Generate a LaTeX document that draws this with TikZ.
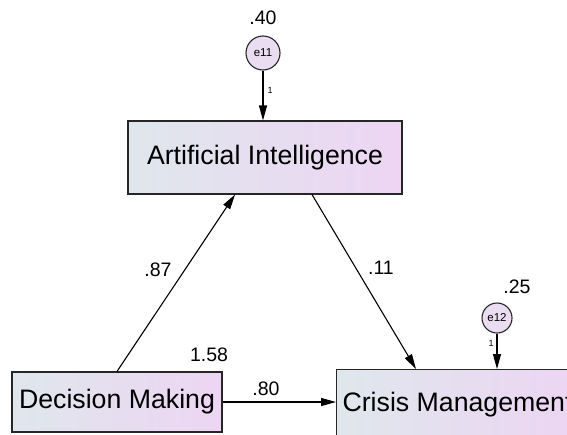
\documentclass[tikz,border=0pt]{standalone}
\usepackage{fontspec}
\setmainfont{Liberation Sans}
\usetikzlibrary{arrows.meta}
\definecolor{boxleft}{HTML}{DFE7EC}
\definecolor{boxright}{HTML}{EDD5F3}
\definecolor{errfill}{HTML}{EADDF1}

\begin{document}
\begin{tikzpicture}[x=1pt,y=-1pt,
  obs/.style={draw=black!85, line width=1.1pt, left color=boxleft, right color=boxright,
              inner sep=0pt, font=\fontsize{26.7}{30}\selectfont},
  err/.style={circle, draw=black!85, line width=1.1pt, fill=errfill, inner sep=0pt,
              font=\fontsize{11.5}{13}\selectfont},
  regpath/.style={line width=1.1pt, -{Triangle[length=15pt,width=8pt]}},
  est/.style={inner sep=0pt, font=\fontsize{19.5}{22}\selectfont},
  one/.style={inner sep=0pt, font=\fontsize{9}{10}\selectfont}]

\useasboundingbox[fill=white] (0,0) rectangle (567,434);

% observed variables
\node[obs, minimum width=274pt, minimum height=73pt] (ai) at (265,157.5) {Artificial Intelligence};
\node[obs, minimum width=210pt, minimum height=60pt] (dm) at (117,402) {Decision Making};
\node[obs, minimum width=242pt, minimum height=70pt, anchor=north west] (cm) at (336,369) {Crisis Management};

% error terms
\node[err, minimum size=34pt] (e11) at (263,53) {e11};
\node[err, minimum size=30pt] (e12) at (497,318) {e12};

% paths
\draw[regpath] (e11) -- (e11 |- ai.north);
\draw[regpath] (e12) -- (e12 |- cm.north);
\draw[regpath] (dm.north) -- ([xshift=-30pt]ai.south);
\draw[regpath] ([xshift=47pt]ai.south) -- ([xshift=80pt]cm.north west);
\draw[regpath] (dm.east) -- (dm.east -| cm.west);

% estimates
\node[est] (v11) at (263,18) {.40};
\node[est] (v12) at (517,287) {.25};
\node[est] (vdm) at (209,355) {1.58};
\node[est] (b1) at (158,270) {.87};
\node[est] (b2) at (381,268) {.11};
\node[est] (b3) at (266,389) {.80};
\node[one] (w1) at (270,90) {1};
\node[one] (w2) at (491,343) {1};
\end{tikzpicture}
\end{document}
